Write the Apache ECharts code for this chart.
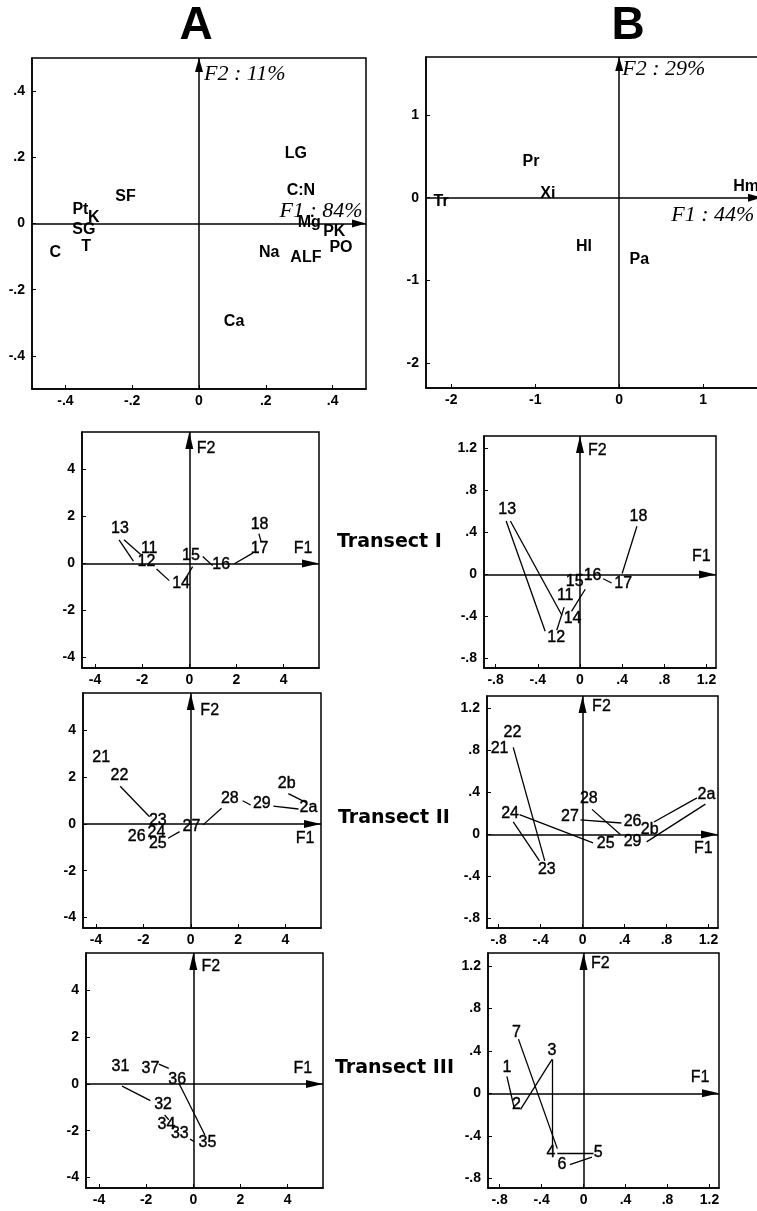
<!DOCTYPE html>
<html>
<head>
<meta charset="utf-8">
<script src="https://cdn.jsdelivr.net/npm/echarts@6/dist/echarts.min.js"></script>
<style>
html, body { margin: 0; padding: 0; background: #fff; }
#main { width: 757px; height: 1211px; }
</style>
</head>
<body>
<div id="main"></div>
<script>
// ---- variables (top row) : [label, F1, F2]
var varsA = [
    ['LG', 0.29, 0.211], ['C:N', 0.305, 0.10], ['Mg', 0.33, 0.004], ['PK', 0.405, -0.025],
    ['PO', 0.425, -0.074], ['ALF', 0.32, -0.104], ['Na', 0.21, -0.089], ['Ca', 0.105, -0.296],
    ['SF', -0.22, 0.081], ['Pt', -0.355, 0.042], ['K', -0.315, 0.017], ['SG', -0.345, -0.018],
    ['T', -0.338, -0.071], ['C', -0.43, -0.089]
];
var varsB = [
    ['Pr', -1.05, 0.43], ['Xi', -0.85, 0.045], ['Tr', -2.12, -0.05], ['Hm', 1.51, 0.13],
    ['Hl', -0.42, -0.59], ['Pa', 0.24, -0.75]
];
var f1A = ['F1 : 84%', 0.49, 0.036];
var f2A = ['F2 : 11%', 0.015, 0.45];
var f1B = ['F1 : 44%', 1.61, -0.21];
var f2B = ['F2 : 29%', 0.036, 1.55];

// ---- sites : [label, F1, F2] and trajectory segments [x1, y1, x2, y2]
var ptsIA = [['13', -2.94, 1.48], ['11', -1.70, 0.63], ['12', -1.82, 0.10], ['14', -0.35, -0.87],
    ['15', 0.07, 0.34], ['16', 1.35, -0.04], ['17', 2.98, 0.63], ['18', 2.98, 1.67]];
var segIA = [[-2.98, 1.01, -2.37, 0.10], [-2.77, 1.01, -2.06, 0.38], [-1.39, -0.23, -0.85, -0.73],
    [-0.21, -0.73, 0.14, -0.13], [0.57, 0.30, 0.99, -0.09], [1.91, -0.01, 2.69, 0.44], [2.95, 1.27, 3.05, 0.91]];

var ptsIB = [['13', -0.69, 0.62], ['18', 0.555, 0.55], ['16', 0.12, -0.01], ['15', -0.05, -0.07],
    ['17', 0.41, -0.09], ['11', -0.14, -0.20], ['14', -0.07, -0.42], ['12', -0.225, -0.60]];
var segIB = [[-0.70, 0.51, -0.33, -0.54], [-0.66, 0.51, -0.17, -0.39], [-0.15, -0.31, -0.22, -0.53],
    [-0.08, -0.35, 0.05, -0.14], [0.22, -0.04, 0.30, -0.08], [0.40, 0.01, 0.54, 0.46]];

var ptsIIA = [['21', -3.78, 2.83], ['22', -3.01, 2.05], ['23', -1.39, 0.14], ['26', -2.28, -0.56],
    ['24', -1.45, -0.37], ['25', -1.39, -0.82], ['27', 0.03, -0.11], ['28', 1.65, 1.09],
    ['29', 3.0, 0.85], ['2b', 4.05, 1.72], ['2a', 4.97, 0.71]];
var segIIA = [[-2.98, 1.61, -1.74, 0.31], [-0.96, -0.61, -0.47, -0.33], [0.52, -0.04, 1.30, 0.67],
    [2.19, 0.99, 2.53, 0.81], [3.49, 0.76, 4.55, 0.64], [4.12, 1.30, 4.90, 0.90]];

var ptsIIB = [['22', -0.667, 0.97], ['21', -0.79, 0.82], ['24', -0.69, 0.20], ['23', -0.34, -0.33],
    ['28', 0.06, 0.34], ['27', -0.12, 0.17], ['26', 0.476, 0.12], ['2b', 0.64, 0.05],
    ['29', 0.476, -0.07], ['25', 0.22, -0.09], ['2a', 1.18, 0.38]];
var segIIB = [[-0.66, 0.83, -0.36, -0.25], [-0.66, 0.12, -0.41, -0.25], [-0.60, 0.19, 0.10, -0.08],
    [-0.02, 0.14, 0.37, 0.11], [0.09, 0.24, 0.36, 0.0], [0.68, 0.12, 1.09, 0.35], [0.61, -0.07, 1.17, 0.29]];

var ptsIIIA = [['31', -3.09, 0.75], ['37', -1.82, 0.67], ['36', -0.68, 0.20], ['32', -1.28, -0.90],
    ['34', -1.14, -1.75], ['33', -0.57, -2.11], ['35', 0.60, -2.51]];
var segIIIA = [[-3.02, -0.09, -1.82, -0.71], [-1.46, 0.85, -1.04, 0.67], [-0.61, 0.03, 0.49, -2.18],
    [-1.22, -1.32, -1.04, -1.53], [-0.14, -2.36, 0.03, -2.46]];

var ptsIIIB = [['1', -0.73, 0.24], ['2', -0.64, -0.11], ['7', -0.64, 0.57], ['3', -0.30, 0.40],
    ['4', -0.31, -0.56], ['6', -0.205, -0.67], ['5', 0.14, -0.56]];
var segIIIB = [[-0.73, 0.16, -0.66, -0.14], [-0.60, -0.15, -0.30, 0.32], [-0.30, 0.32, -0.30, -0.50],
    [-0.62, 0.51, -0.25, -0.52], [-0.25, -0.56, 0.095, -0.56], [-0.13, -0.67, 0.08, -0.60]];

// axis titles of the site panels
var f1IA = ['F1', 4.82, 0.63], f2IA = ['F2', 0.71, 4.9];
var f1IB = ['F1', 1.15, 0.17], f2IB = ['F2', 0.165, 1.18];
var f1IIA = ['F1', 4.83, -0.61], f2IIA = ['F2', 0.80, 4.86];
var f1IIB = ['F1', 1.15, -0.13], f2IIB = ['F2', 0.18, 1.22];
var f1IIIA = ['F1', 4.64, 0.67], f2IIIA = ['F2', 0.74, 5.03];
var f1IIIB = ['F1', 1.11, 0.15], f2IIIB = ['F2', 0.16, 1.22];

// ticks
var ticksVarA = [-0.4, -0.2, 0, 0.2, 0.4];
var ticksVarB = [-2, -1, 0, 1];
var ticksSiteA = [-4, -2, 0, 2, 4];
var ticksSiteB = [-0.8, -0.4, 0, 0.4, 0.8, 1.2];

var rangeSiteAX = [-4.55, 5.5], rangeSiteAY = [-4.45, 5.6];
var rangeSiteBX = [-0.91, 1.29], rangeSiteBY = [-0.89, 1.32];

var panels = [
    {box: [32, 58, 334, 331], x: [-0.5, 0.5], y: [-0.5, 0.5], ticks: ticksVarA, pts: varsA, seg: [], f1: f1A, f2: f2A, big: true},
    {box: [426, 57, 336, 331], x: [-2.3, 1.7], y: [-2.3, 1.7], ticks: ticksVarB, pts: varsB, seg: [], f1: f1B, f2: f2B, big: true},
    {box: [82, 432, 237, 236], x: rangeSiteAX, y: rangeSiteAY, ticks: ticksSiteA, pts: ptsIA, seg: segIA, f1: f1IA, f2: f2IA},
    {box: [484, 436, 232, 232], x: rangeSiteBX, y: rangeSiteBY, ticks: ticksSiteB, pts: ptsIB, seg: segIB, f1: f1IB, f2: f2IB},
    {box: [83, 693, 238, 235], x: rangeSiteAX, y: rangeSiteAY, ticks: ticksSiteA, pts: ptsIIA, seg: segIIA, f1: f1IIA, f2: f2IIA},
    {box: [487, 696, 231, 232], x: rangeSiteBX, y: rangeSiteBY, ticks: ticksSiteB, pts: ptsIIB, seg: segIIB, f1: f1IIB, f2: f2IIB},
    {box: [86, 953, 237, 235], x: rangeSiteAX, y: rangeSiteAY, ticks: ticksSiteA, pts: ptsIIIA, seg: segIIIA, f1: f1IIIA, f2: f2IIIA},
    {box: [488, 953, 231, 235], x: rangeSiteBX, y: rangeSiteBY, ticks: ticksSiteB, pts: ptsIIIB, seg: segIIIB, f1: f1IIIB, f2: f2IIIB}
];

var SANS = '"Liberation Sans", Arial, Helvetica, sans-serif';
var SERIF = '"Liberation Serif", "Times New Roman", serif';

// .4 / -.2 style tick labels
function fmtTick(v) {
    var s = String(Math.round(v * 10) / 10);
    return s.replace(/^(-?)0\./, '$1.');
}

function makeAxis(i, range, ticks) {
    return {
        gridIndex: i,
        type: 'value',
        min: range[0],
        max: range[1],
        splitLine: {show: false},
        axisLine: {show: true, onZero: false, lineStyle: {color: '#000', width: 1.5}},
        axisTick: {show: true, inside: true, length: 4, customValues: ticks, lineStyle: {color: '#000', width: 1}},
        axisLabel: {
            customValues: ticks,
            formatter: fmtTick,
            margin: 7,
            color: '#000',
            fontFamily: SANS,
            fontWeight: 'bold',
            fontSize: 14
        }
    };
}

var grids = [], xAxes = [], yAxes = [], series = [];

panels.forEach(function (p, i) {
    grids.push({
        left: p.box[0], top: p.box[1], width: p.box[2], height: p.box[3],
        show: true, borderColor: '#000', borderWidth: 1.5, backgroundColor: 'transparent',
        containLabel: false, outerBoundsMode: 'none'
    });
    var xa = makeAxis(i, p.x, p.ticks);
    xa.axisLabel.margin = 5;
    xAxes.push(xa);
    yAxes.push(makeAxis(i, p.y, p.ticks));

    // point labels + trajectory segments
    series.push({
        type: 'scatter',
        xAxisIndex: i,
        yAxisIndex: i,
        symbolSize: 0,
        silent: true,
        itemStyle: {opacity: 1, color: '#000'},
        data: p.pts.map(function (d) { return [d[1], d[2], d[0]]; }),
        label: {
            show: true,
            position: [0, 0],
            align: 'center',
            verticalAlign: 'middle',
            formatter: function (o) { return o.value[2]; },
            color: '#000',
            fontFamily: SANS,
            fontWeight: p.big ? 'bold' : 'normal',
            fontSize: 16,
            // scanned print looks a little heavier
            textBorderColor: '#000',
            textBorderWidth: p.big ? 0 : 0.4
        },
        markLine: {
            silent: true,
            symbol: 'none',
            label: {show: false},
            emphasis: {disabled: true},
            lineStyle: {color: '#000', width: 1.3, type: 'solid', opacity: 1},
            data: p.seg.map(function (s) {
                return [{coord: [s[0], s[1]]}, {coord: [s[2], s[3]]}];
            })
        }
    });

    // F1 / F2 arrows and their titles
    var head = p.big ? [8, 14] : [8, 17];
    series.push({
        type: 'scatter',
        xAxisIndex: i,
        yAxisIndex: i,
        symbolSize: 0,
        silent: true,
        itemStyle: {opacity: 1, color: '#000'},
        data: [
            {value: [p.f1[1], p.f1[2], p.f1[0]], label: {align: p.big ? 'right' : 'center'}},
            {value: [p.f2[1], p.f2[2], p.f2[0]], label: {align: p.big ? 'left' : 'center'}}
        ],
        label: {
            show: true,
            position: [0, 0],
            verticalAlign: 'middle',
            formatter: function (o) { return o.value[2]; },
            color: '#000',
            fontFamily: p.big ? SERIF : SANS,
            fontStyle: p.big ? 'italic' : 'normal',
            fontSize: p.big ? 22 : 16,
            textBorderColor: '#000',
            textBorderWidth: p.big ? 0 : 0.3
        },
        markLine: {
            silent: true,
            symbol: ['none', 'triangle'],
            label: {show: false},
            emphasis: {disabled: true},
            itemStyle: {color: '#000', opacity: 1},
            lineStyle: {color: '#000', width: 1.5, type: 'solid', opacity: 1},
            data: [
                [{coord: [p.x[0], 0]}, {coord: [p.x[1], 0], symbolSize: head, symbolOffset: [0, '50%']}],
                [{coord: [0, p.y[0]]}, {coord: [0, p.y[1]], symbolSize: head, symbolOffset: [0, '50%']}]
            ]
        }
    });
});

var myChart = echarts.init(document.getElementById('main'));
var option = {
    animation: false,
    backgroundColor: '#fff',
    graphic: [
        {type: 'text', x: 196, y: 26, style: {text: 'A', fill: '#000', fontSize: 46, fontWeight: 'bold', fontFamily: SANS, align: 'center', verticalAlign: 'middle'}},
        {type: 'text', x: 628, y: 26, style: {text: 'B', fill: '#000', fontSize: 46, fontWeight: 'bold', fontFamily: SANS, align: 'center', verticalAlign: 'middle'}},
        {type: 'text', x: 337, y: 542, style: {text: 'Transect I', fill: '#000', fontSize: 19, fontWeight: 'bold', fontFamily: '"DejaVu Sans", sans-serif', align: 'left', verticalAlign: 'middle'}},
        {type: 'text', x: 338, y: 818, style: {text: 'Transect II', fill: '#000', fontSize: 19, fontWeight: 'bold', fontFamily: '"DejaVu Sans", sans-serif', align: 'left', verticalAlign: 'middle'}},
        {type: 'text', x: 335, y: 1068, style: {text: 'Transect III', fill: '#000', fontSize: 19, fontWeight: 'bold', fontFamily: '"DejaVu Sans", sans-serif', align: 'left', verticalAlign: 'middle'}}
    ],
    grid: grids,
    xAxis: xAxes,
    yAxis: yAxes,
    series: series
};
myChart.setOption(option);
</script>
</body>
</html>
